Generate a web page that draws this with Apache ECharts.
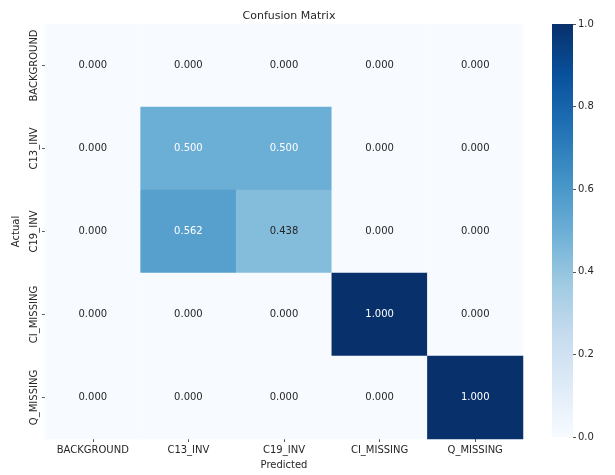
<!DOCTYPE html>
<html>
<head>
<meta charset="utf-8">
<script src="https://cdn.jsdelivr.net/npm/echarts@6/dist/echarts.min.js"></script>
<style>
  html, body { margin: 0; padding: 0; background: #ffffff; }
  #chart { width: 615px; height: 475px; }
</style>
</head>
<body>
<div id="chart"></div>
<script>
// Class labels (predicted along x, actual along y)
const predictedLabels = ['BACKGROUND', 'C13_INV', 'C19_INV', 'CI_MISSING', 'Q_MISSING'];
const actualLabels = ['BACKGROUND', 'C13_INV', 'C19_INV', 'CI_MISSING', 'Q_MISSING'];

// Normalised confusion matrix, one row per actual class
const rowBackground = [0.000, 0.000, 0.000, 0.000, 0.000];
const rowC13 = [0.000, 0.500, 0.500, 0.000, 0.000];
const rowC19 = [0.000, 0.562, 0.438, 0.000, 0.000];
const rowCI = [0.000, 0.000, 0.000, 1.000, 0.000];
const rowQ = [0.000, 0.000, 0.000, 0.000, 1.000];
const matrixRows = [rowBackground, rowC13, rowC19, rowCI, rowQ];

// Colour bar tick values
const colorbarTicks = [0.0, 0.2, 0.4, 0.6, 0.8, 1.0];

// "Blues" colour ramp
const blues = ['#f7fbff', '#deebf7', '#c6dbef', '#9ecae1', '#6baed6',
               '#4292c6', '#2171b5', '#08519c', '#08306b'];

const cells = [];
matrixRows.forEach((row, r) => {
  row.forEach((v, c) => cells.push([c, r, v]));
});

const FONT = 'DejaVu Sans';
const textColor = '#262626';

const chart = echarts.init(document.getElementById('chart'), null, { renderer: 'canvas' });
chart.setOption({
  backgroundColor: '#ffffff',
  animation: false,
  textStyle: { fontFamily: FONT },
  title: {
    text: 'Confusion Matrix',
    left: 284, top: 6, textAlign: 'center',
    textStyle: { fontFamily: FONT, fontSize: 11, fontWeight: 'normal', color: textColor }
  },
  grid: [
    { left: 45, top: 24, width: 478, height: 415 },
    { left: 552, top: 24, width: 21, height: 413 }
  ],
  xAxis: [
    {
      gridIndex: 0, type: 'category', data: predictedLabels, position: 'bottom',
      name: 'Predicted', nameLocation: 'middle', nameGap: 21,
      nameTextStyle: { fontFamily: FONT, fontSize: 10, color: textColor },
      axisLine: { show: false },
      axisTick: { show: true, alignWithLabel: true, length: 3, lineStyle: { color: '#555' } },
      axisLabel: { interval: 0, fontFamily: FONT, fontSize: 10, color: textColor, margin: 6 },
      splitLine: { show: false }
    },
    {
      gridIndex: 1, type: 'value', min: 0, max: 1, show: false
    }
  ],
  yAxis: [
    {
      gridIndex: 0, type: 'category', data: actualLabels, inverse: true,
      name: 'Actual', nameLocation: 'middle', nameGap: 23, nameRotate: 90,
      nameTextStyle: { fontFamily: FONT, fontSize: 10, color: textColor },
      axisLine: { show: false },
      axisTick: { show: true, alignWithLabel: true, length: 3, lineStyle: { color: '#555' } },
      axisLabel: { interval: 0, fontFamily: FONT, fontSize: 10, color: textColor, rotate: 90, margin: 6 },
      splitLine: { show: false }
    },
    {
      gridIndex: 1, type: 'value', position: 'right', min: 0, max: 1, interval: 0.2,
      axisLine: { show: false, onZero: false },
      axisTick: { show: true, length: 3, lineStyle: { color: '#555' } },
      axisLabel: {
        fontFamily: FONT, fontSize: 10, color: textColor, margin: 5,
        formatter: v => colorbarTicks.some(t => Math.abs(t - v) < 1e-9) ? v.toFixed(1) : ''
      },
      splitLine: { show: false }
    }
  ],
  visualMap: {
    type: 'continuous', min: 0, max: 1, seriesIndex: 0,
    show: false,
    inRange: { color: blues }
  },
  series: [
    {
      type: 'heatmap', xAxisIndex: 0, yAxisIndex: 0,
      data: cells.map(d => ({
        value: d,
        // light text on dark cells, dark text on light cells
        label: { color: d[2] > 0.47 ? '#ffffff' : textColor }
      })),
      itemStyle: { borderWidth: 0 },
      label: {
        show: true, fontFamily: FONT, fontSize: 10,
        formatter: p => p.value[2].toFixed(3)
      },
      emphasis: { disabled: true }
    }
  ]
});

// Colour bar: a gradient rectangle spanning the second grid's 0..1 range
const barTopLeft = chart.convertToPixel({ gridIndex: 1 }, [0, 1]);
const barBottomRight = chart.convertToPixel({ gridIndex: 1 }, [1, 0]);
chart.setOption({
  graphic: [{
    type: 'rect',
    shape: {
      x: barTopLeft[0], y: barTopLeft[1],
      width: barBottomRight[0] - barTopLeft[0],
      height: barBottomRight[1] - barTopLeft[1]
    },
    style: {
      fill: new echarts.graphic.LinearGradient(0, 1, 0, 0,
        blues.map((c, i) => ({ offset: i / (blues.length - 1), color: c })))
    },
    z: -1
  }]
});
</script>
</body>
</html>
